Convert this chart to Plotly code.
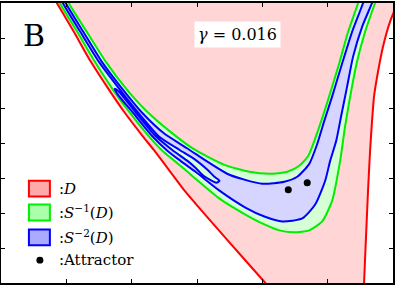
import plotly.graph_objects as go

# ---- region boundaries (data units) ----
red_left_x = [0.763, 0.855, 1.115, 1.374, 1.649, 1.878, 2.168, 2.351, 2.580, 2.809, 2.977, 3.496, 4.046, 4.183]
red_left_y = [8.312, 8.000, 7.177, 6.326, 5.532, 4.908, 4.199, 3.773, 3.206, 2.638, 2.270, 1.163, 0.000, -0.284]
red_right_x = [6.046, 5.954, 5.847, 5.771, 5.710, 5.679, 5.649, 5.618, 5.588, 5.557, 5.553]
red_right_y = [7.887, 7.461, 6.752, 6.043, 5.333, 4.624, 3.773, 2.638, 1.362, 0.000, -0.284]

# S^-1(D): outer and inner boundaries
g_outer_x = [0.840, 0.901, 1.168, 1.435, 1.710, 1.954, 2.260, 2.473, 2.656, 2.855, 2.977, 3.344, 3.740, 4.031,
             4.260, 4.489, 4.718, 4.916, 5.069, 5.191, 5.267, 5.359, 5.450, 5.573, 5.725, 5.786]
g_outer_y = [8.312, 8.000, 7.177, 6.326, 5.532, 4.908, 4.199, 3.773, 3.489, 3.177, 2.979, 2.411, 1.957, 1.674,
             1.504, 1.447, 1.504, 1.759, 2.355, 3.489, 4.482, 5.475, 6.326, 7.177, 8.000, 8.312]
g_inner_x = [0.977, 1.038, 1.313, 1.603, 1.924, 2.214, 2.580, 2.947, 3.420, 3.802, 4.107, 4.382, 4.565, 4.702,
             4.779, 4.901, 5.023, 5.176, 5.313, 5.466, 5.511]
g_inner_y = [8.312, 8.000, 7.177, 6.326, 5.532, 4.936, 4.340, 3.830, 3.376, 3.177, 3.121, 3.177, 3.348, 3.631,
             3.972, 4.624, 5.333, 6.270, 7.177, 8.000, 8.312]

# S^-2(D): upper prong edge, bay, lower prong, outer edge, inner edge
b_upper_x = [0.885, 0.947, 1.214, 1.496, 1.817, 2.107, 2.427, 2.733, 2.977, 3.160, 3.267, 3.344]
b_upper_y = [8.312, 8.000, 7.177, 6.326, 5.532, 4.851, 4.170, 3.801, 3.518, 3.234, 3.035, 2.922]
b_bay_x = [3.298, 3.099, 2.977, 2.855, 2.641, 2.366, 2.046, 1.802, 1.740]
b_bay_y = [2.865, 3.064, 3.291, 3.489, 3.773, 4.199, 4.908, 5.475, 5.546]
b_outer_x = [1.786, 2.000, 2.313, 2.550, 2.748, 2.977, 3.344, 3.740, 4.031, 4.305, 4.611, 4.809, 4.962, 5.038,
             5.130, 5.206, 5.298, 5.389, 5.527, 5.679, 5.740]
b_outer_y = [5.390, 4.908, 4.199, 3.773, 3.489, 3.177, 2.638, 2.156, 1.901, 1.759, 1.844, 2.241, 2.922, 3.489,
             4.057, 4.766, 5.617, 6.468, 7.319, 8.000, 8.312]
b_inner_x = [0.931, 0.992, 1.260, 1.542, 1.863, 2.153, 2.489, 2.840, 2.977, 3.496, 4.000, 4.336, 4.534, 4.718,
             4.840, 4.947, 5.069, 5.221, 5.374, 5.542, 5.588]
b_inner_y = [8.312, 8.000, 7.177, 6.326, 5.532, 4.879, 4.284, 3.858, 3.688, 3.092, 2.837, 2.894, 3.035, 3.404,
             3.972, 4.624, 5.333, 6.270, 7.177, 8.000, 8.312]

attractor_x = [4.397, 4.687]
attractor_y = [2.667, 2.865]

gamma_label = "<i>γ</i> = 0.016"
panel_label = "B"
legend_labels = [":<i>D</i>", ":<i>S</i><sup>−1</sup>(<i>D</i>)", ":<i>S</i><sup>−2</sup>(<i>D</i>)", ":Attractor"]

PINK, LGREEN, LBLUE = "#ffd5d5", "#d5ffd5", "#d5d5ff"
RED, GREEN, BLUE = "#ff0000", "#00ee00", "#0000ff"
SERIF = "DejaVu Serif"

fig = go.Figure()

# D region (pink)
dx = red_left_x + red_right_x[::-1] + [6.3, 0.6]
dy = red_left_y + red_right_y[::-1] + [8.4, 8.4]
fig.add_trace(go.Scatter(x=dx, y=dy, fill="toself", fillcolor=PINK, mode="lines",
                         line=dict(width=0, color=PINK), hoverinfo="skip"))

# S^-1(D)
fig.add_trace(go.Scatter(x=g_outer_x + g_inner_x[::-1], y=g_outer_y + g_inner_y[::-1],
                         fill="toself", fillcolor=LGREEN, mode="lines",
                         line=dict(width=2, color=GREEN, shape="spline", smoothing=0.6), hoverinfo="skip"))

# S^-2(D)
bx = b_upper_x + b_bay_x + b_outer_x + b_inner_x[::-1]
by = b_upper_y + b_bay_y + b_outer_y + b_inner_y[::-1]
fig.add_trace(go.Scatter(x=bx, y=by, fill="toself", fillcolor=LBLUE, mode="lines",
                         line=dict(width=2, color=BLUE, shape="spline", smoothing=0.6), hoverinfo="skip"))

# red boundaries of D
for xs, ys in [(red_left_x, red_left_y), (red_right_x, red_right_y)]:
    fig.add_trace(go.Scatter(x=xs, y=ys, mode="lines",
                             line=dict(width=2, color=RED, shape="spline", smoothing=0.6), hoverinfo="skip"))

# attractor
fig.add_trace(go.Scatter(x=attractor_x, y=attractor_y, mode="markers",
                         marker=dict(size=7, color="black"), hoverinfo="skip"))

axis_common = dict(showline=True, linecolor="black", linewidth=1.5, mirror="allticks",
                   ticks="inside", ticklen=4, tickwidth=1, tickcolor="black",
                   showticklabels=False, showgrid=False, zeroline=False, fixedrange=True)
fig.update_xaxes(range=[0, 6], tickvals=[1, 2, 3, 4, 5], **axis_common)
fig.update_yaxes(range=[0, 8], tickvals=[1, 2, 3, 4, 5, 6, 7], **axis_common)

# legend (drawn manually)
sw_fill = ["#ffaaaa", "#aaffaa", "#aaaaff"]
sw_line = [RED, GREEN, BLUE]
sw_y = [(0.3085, 0.365), (0.2234, 0.280), (0.1348, 0.1915)]
shapes = []
for f, l, (y0, y1) in zip(sw_fill, sw_line, sw_y):
    shapes.append(dict(type="rect", xref="paper", yref="paper", x0=0.0712, x1=0.1247, y0=y0, y1=y1,
                       fillcolor=f, line=dict(color=l, width=2)))
shapes.append(dict(type="circle", xref="paper", yref="paper", x0=0.0992 - 0.0089, x1=0.0992 + 0.0089,
                   y0=0.0816 - 0.0124, y1=0.0816 + 0.0124, fillcolor="black", line=dict(width=0)))

annotations = []
for txt, yc in zip(legend_labels, [0.337, 0.2518, 0.163, 0.0816]):
    annotations.append(dict(text=txt, xref="paper", yref="paper", x=0.143, y=yc, xanchor="left",
                            yanchor="middle", showarrow=False, font=dict(family=SERIF, size=15, color="black")))
annotations.append(dict(text=panel_label, xref="paper", yref="paper", x=0.084, y=0.883, xanchor="center",
                        yanchor="middle", showarrow=False, font=dict(family=SERIF, size=30, color="black")))
annotations.append(dict(text=gamma_label, xref="paper", yref="paper", x=0.603, y=0.8865, xanchor="center",
                        yanchor="middle", showarrow=False, bgcolor="white", borderpad=3,
                        font=dict(family=SERIF, size=16, color="black")))

fig.update_layout(width=396, height=286, margin=dict(l=1, r=2, t=1, b=3),
                  plot_bgcolor="white", paper_bgcolor="white", showlegend=False,
                  shapes=shapes, annotations=annotations)

fig.write_html("out.html", config={"displayModeBar": False},
               post_script="document.body.style.margin='0';document.body.style.padding='0';"
                           "document.documentElement.style.overflow='hidden';")
